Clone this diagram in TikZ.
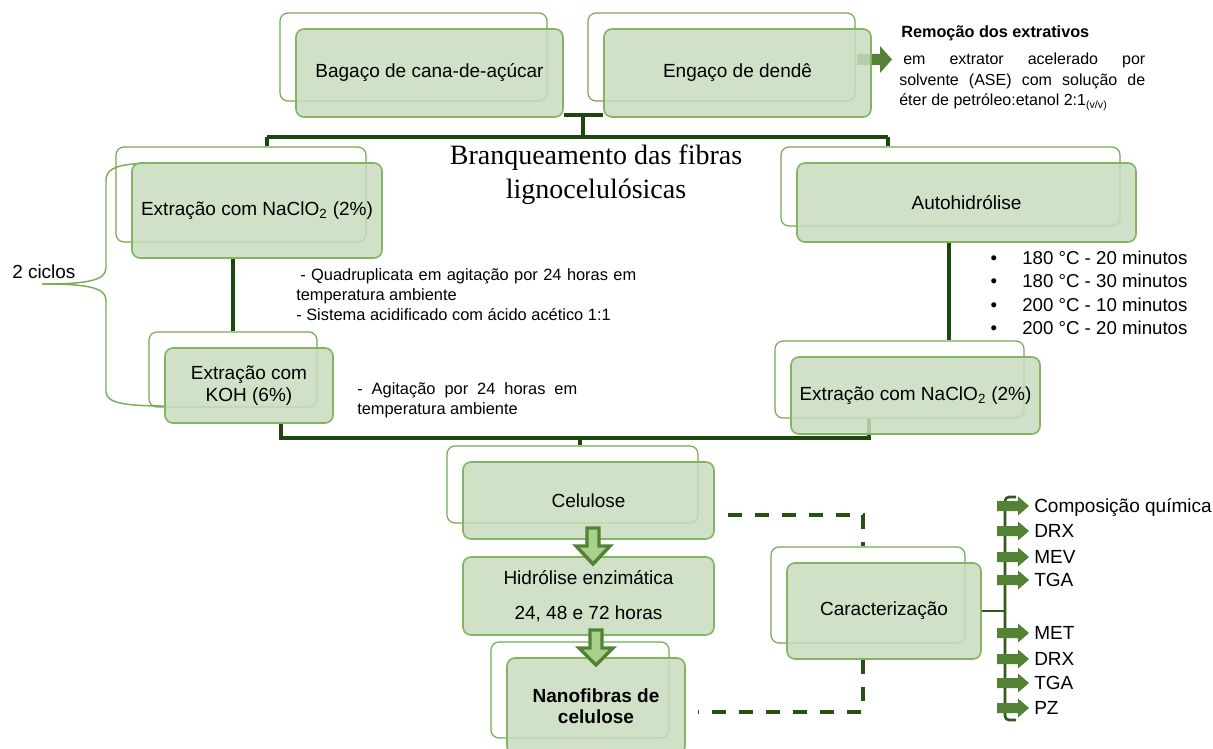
\documentclass[tikz,border=0pt]{standalone}
\usepackage{fontspec}
\setmainfont{Liberation Sans}
\newfontfamily\titlefont{Liberation Serif}
\usetikzlibrary{backgrounds}
\definecolor{conncol}{RGB}{30,70,15}
\definecolor{dashcol}{RGB}{40,80,20}
\definecolor{backcol}{RGB}{115,172,80}
\definecolor{frontdraw}{RGB}{130,180,100}
\definecolor{frontfill}{RGB}{200,220,190}
\definecolor{arrcol}{RGB}{84,130,53}
\definecolor{arrlight}{RGB}{169,209,142}
\definecolor{bracecol}{RGB}{120,175,90}
\definecolor{listcol}{RGB}{50,90,30}
\newcommand\boxfont{\fontsize{14.25}{17}\selectfont}
\newcommand\bulfont{\fontsize{14}{17}\selectfont}
\newcommand\smallfont{\fontsize{12.3}{15}\selectfont}
\tikzset{
 wh/.style 2 args={minimum width=#1*0.75pt, minimum height=#2*0.75pt},
 backbox/.style={draw=backcol, line width=0.9pt, rounded corners=6pt, inner sep=0pt},
 frontbox/.style={draw=frontdraw, line width=1.2pt, fill=frontfill, fill opacity=0.85, text opacity=1, rounded corners=6pt, inner sep=0pt, align=center, font=\boxfont},
 conn/.style={draw=conncol, line width=2.3pt},
 dashline/.style={draw=dashcol, line width=3pt, dash pattern=on 10.5pt off 9.75pt},
 bracestyle/.style={draw=bracecol, line width=1.1pt},
 listline/.style={draw=listcol, line width=2pt},
 hollow/.style={fill=arrlight, draw=arrcol, line width=2.6pt, line join=miter},
 txt/.style={inner sep=0pt, text=black},
}
\newcommand\pairbox[6]{%
 \node[backbox, wh={#4}{#5}] (#1B) at (#2-16,#3-16) {};
 \node[frontbox, wh={#4}{#5}] (#1) at (#2,#3) {#6};}
\begin{document}
\begin{tikzpicture}[x=0.75pt,y=-0.75pt]
\useasboundingbox (0,0) rectangle (1213,749);
% boxes
\pairbox{bag}{429.5}{73}{267}{88}{Bagaço de cana-de-açúcar}
\pairbox{eng}{737.5}{73}{267}{88}{Engaço de dendê}
\pairbox{naL}{257}{210.5}{250}{95}{Extração com NaClO\textsubscript{2} (2\%)}
\pairbox{koh}{249}{385.5}{168}{75}{Extração com\\KOH (6\%)}
\pairbox{auto}{966.5}{202.5}{339}{79}{Autohidrólise}
\pairbox{naR}{915.5}{395.5}{249}{77}{Extração com NaClO\textsubscript{2} (2\%)}
\pairbox{cel}{588.5}{500.5}{251}{77}{Celulose}
\node[frontbox, wh={251}{78}] (hid) at (588.5,596) {Hidrólise enzimática\\[9pt]24, 48 e 72 horas};
\node[backbox, wh={178}{96}] (nanoB) at (580,690) {};
\node[frontbox, wh={178}{96}, font=\bfseries\fontsize{14.25}{15.75}\selectfont] (nano) at (596,706) {Nanofibras de\\celulose};
\pairbox{car}{884}{611}{194}{96}{Caracterização}

% texts
\node[txt, anchor=base west, font=\bfseries\fontsize{12.2}{14}\selectfont] (rem) at (901,38) {Remoção dos extrativos};
\node[txt, anchor=north west, text width=184.5pt, align=justify, font=\fontsize{12}{15.4}\selectfont] (remtxt) at (899,53) {\hspace*{3pt}em extrator acelerado por\linebreak solvente (ASE) com solução de\linebreak éter de petróleo:etanol 2:1\textsubscript{(v/v)}};
\node[txt, font=\titlefont\fontsize{21}{25.5}\selectfont, align=center] (title) at (596,175) {Branqueamento das fibras\\lignocelulósicas};
\node[txt, anchor=north west, text width=255pt, align=justify, font=\smallfont] (quad) at (296,268) {\hspace*{3pt}- Quadruplicata em agitação por 24 horas em\linebreak temperatura ambiente\\- Sistema acidificado com ácido acético 1:1};
\node[txt, anchor=north west, text width=165pt, align=justify, font=\smallfont] (agit) at (357,382) {- Agitação por 24 horas em\linebreak temperatura ambiente};
\node[txt, anchor=base west, font=\fontsize{14.2}{17}\selectfont] (cic) at (12,278) {2 ciclos};
\foreach \yy/\lab [count=\i] in {264/180 °C - 20 minutos,287.5/180 °C - 30 minutos,311/200 °C - 10 minutos,334.5/200 °C - 20 minutos}{
 \node[txt, anchor=base, font=\bulfont] (bd\i) at (994,\yy) {•};
 \node[txt, anchor=base west, font=\bulfont] (bt\i) at (1022,\yy) {\lab};
}
% list
\coordinate (lb) at (1005,608);
\draw[listline] (car.east) -- (car.east -| lb);
\draw[listline, rounded corners=3pt] (1016,497) -- (1005,497) -- (1005,720) -- (1016,720);
\foreach \yy/\lab [count=\i] in {506/Composição química,531/DRX,557/MEV,580/TGA,633/MET,659/DRX,683/TGA,708/PZ}{
 \fill[arrcol] (997,\yy-5) -- (1018,\yy-5) -- (1018,\yy-9.5) -- (1029,\yy) -- (1018,\yy+9.5) -- (1018,\yy+5) -- (997,\yy+5) -- cycle;
 \node[txt, anchor=base west, font=\boxfont] (li\i) at (1034,\yy+6.8) {\lab};
}
% hollow arrows
\path[hollow] (587,528) -- (599,528) -- (599,546) -- (610,546) -- (593,564) -- (576,546) -- (587,546) -- cycle;
\path[hollow] (590,630) -- (602,630) -- (602,648) -- (613,648) -- (596,665) -- (579,648) -- (590,648) -- cycle;

\begin{scope}[on background layer]
\fill[white] (0,0) rectangle (1213,749);
\coordinate (jt) at (583,115);
\coordinate (jm) at (583,137);
\coordinate (jl) at (267,137);
\coordinate (jr) at (888,137);
\draw[conn] (bag.east |- jt) -- (eng.west |- jt);
\draw[conn] (jt) -- (jm);
\draw[conn] (jl) -- (jr);
\draw[conn] (jl) -- (jl |- naLB.north);
\draw[conn] (jr) -- (jr |- autoB.north);
\draw[conn] (naL.south -| kohB.north) -- (kohB.north);
\coordinate (ja) at (949,300);
\draw[conn] (auto.south -| ja) -- (ja |- naRB.north);
\coordinate (kb) at (281,438);
\coordinate (nr) at (869,438);
\coordinate (jc) at (580,438);
\draw[conn] (koh.south -| kb) -- (kb) -- (nr) -- (nr |- naRB.south);
\draw[conn] (jc) -- (jc |- celB.north);
\coordinate (d1) at (728,515);
\coordinate (dx) at (863,515);
\coordinate (d2) at (698,712);
\coordinate (dy) at (863,712);
\draw[dashline] (d1) -- (dx) -- (dx |- carB.north);
\draw[dashline] (dy |- car.south) -- (dy) -- (d2);
\fill[arrcol] (857,54) -- (880,54) -- (880,46) -- (892,59.5) -- (880,73) -- (880,65) -- (857,65) -- cycle;
\draw[bracestyle] (167,163) .. controls (130,163) and (106,164) .. (106,180) -- (106,268) .. controls (106,281) and (85,284) .. (42,284);
\draw[bracestyle] (42,284) .. controls (85,284) and (106,287) .. (106,300) -- (106,392) .. controls (106,404) and (130,406) .. (167,406);
\end{scope}
\end{tikzpicture}
\end{document}
